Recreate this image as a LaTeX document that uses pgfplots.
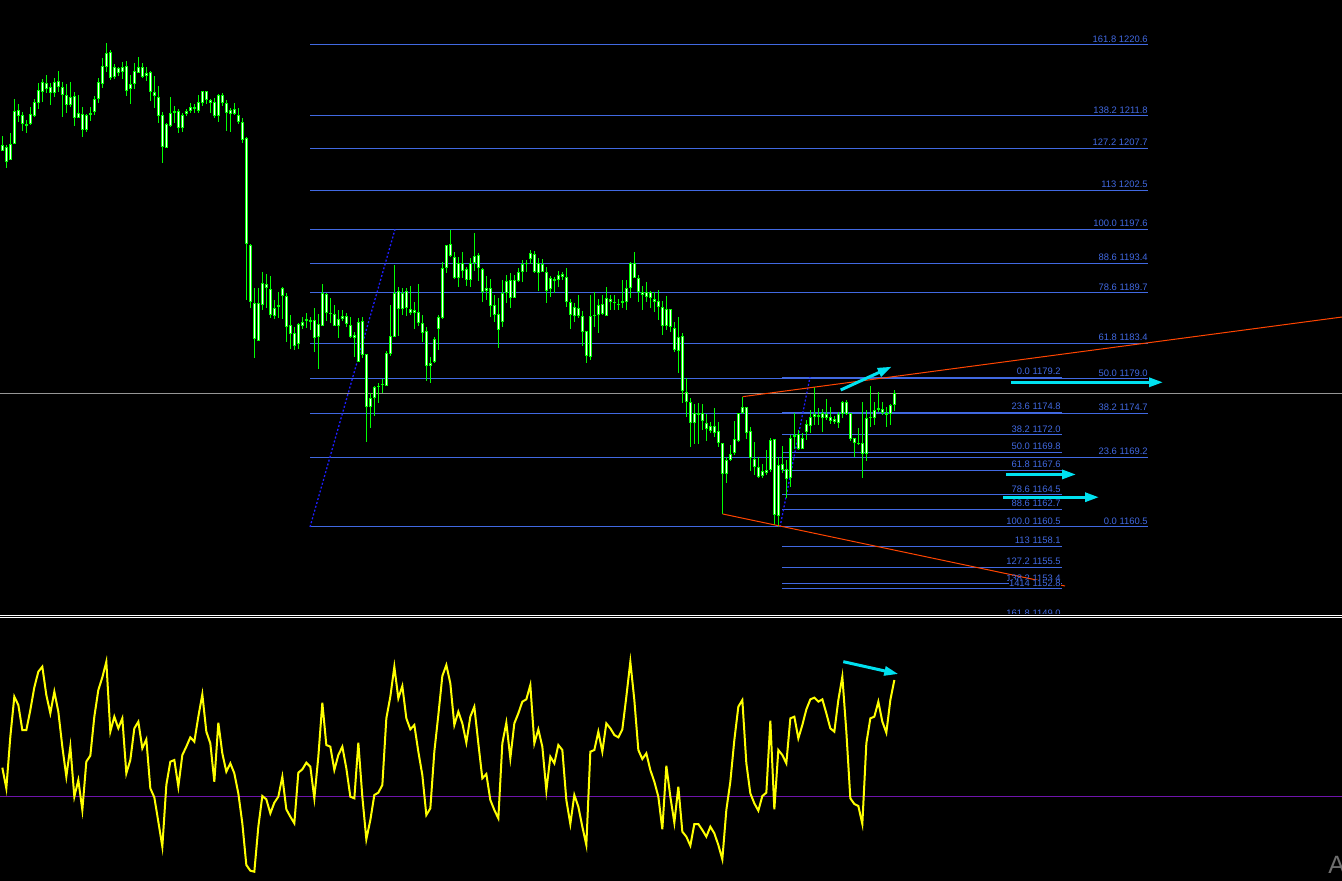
\documentclass[border=0pt]{standalone}
\usepackage{fontspec}
\setmainfont{Liberation Sans}
\usepackage{pgfplots}
\pgfplotsset{compat=1.18}
\usepackage{pgfplotstable}
\usetikzlibrary{arrows.meta}
\definecolor{candle}{RGB}{0,255,0}
\definecolor{fibblue}{RGB}{65,105,225}
\definecolor{dotblue}{RGB}{30,30,255}
\definecolor{trend}{RGB}{255,69,0}
\definecolor{arrowcyan}{RGB}{0,225,240}
\definecolor{oscyellow}{RGB}{255,255,0}
\definecolor{zeroline}{RGB}{110,20,170}
\definecolor{priceline}{RGB}{150,150,150}
\tikzset{fl/.style={font=\fontsize{4.7}{5.5}\selectfont, text=fibblue, anchor=south east, inner sep=0pt, yshift=1pt},
 cyanarrow/.style={arrowcyan, line width=1.5pt, -{Triangle[length=7pt,width=4.5pt]}}}
% candle rows: body top, body bottom, wick top, wick bottom (chart pixel rows)
\pgfplotstableread{
bt bb wt wb
145 151 136 151
147 162 145 168
144 160 133 160
111 144 99 144
110 116 104 122
115 124 112 131
124 126 120 133
114 124 107 125
102 116 99 117
90 103 83 109
82 92 79 102
83 89 75 93
87 93 83 105
82 93 78 97
81 87 71 92
87 95 82 117
95 105 84 113
97 105 82 107
96 118 92 126
113 118 95 118
114 130 107 137
115 130 114 132
113 115 107 121
99 112 96 115
82 99 78 103
66 84 58 88
53 67 43 72
52 78 50 80
67 77 64 79
68 73 67 76
67 72 62 79
66 91 61 96
84 89 75 104
71 84 63 89
67 73 57 73
67 77 63 78
73 76 67 81
72 92 71 101
92 96 76 108
97 116 86 123
115 147 112 163
124 148 123 148
113 126 97 127
111 113 106 123
111 128 109 133
115 128 113 132
111 114 109 116
107 111 103 113
107 109 104 113
102 111 95 113
91 103 91 106
91 100 91 104
100 103 99 113
102 116 98 118
95 116 94 122
95 103 93 106
103 113 100 131
110 114 108 132
109 114 103 115
115 122 108 124
122 140 118 143
138 244 137 300
245 302 244 308
303 339 288 358
303 341 288 341
283 305 272 310
284 288 274 308
289 315 276 318
308 316 300 319
305 307 292 318
288 296 287 319
296 327 293 342
325 334 315 349
333 346 327 350
324 344 323 349
322 326 317 329
319 321 313 328
320 322 317 330
320 338 308 352
324 337 314 369
293 326 284 326
294 313 293 321
313 314 298 323
314 326 305 326
319 326 310 338
316 319 310 321
316 324 313 327
325 337 317 338
335 338 332 357
322 362 318 362
321 355 317 358
354 407 354 442
398 407 393 428
387 398 386 416
386 387 383 403
384 385 379 393
353 386 351 386
336 354 305 356
293 337 265 337
291 309 287 336
293 309 288 315
291 308 288 316
309 313 286 315
310 313 302 329
312 323 284 326
323 333 315 342
331 366 327 381
363 366 357 383
339 362 337 363
317 329 315 350
268 318 262 319
245 268 245 273
244 256 230 257
257 278 252 279
263 278 257 287
263 271 252 278
269 280 267 286
263 280 258 287
256 263 233 271
255 268 253 281
269 292 268 302
288 291 276 300
288 306 279 317
305 315 295 322
314 330 298 348
293 322 280 327
281 293 275 303
280 298 273 308
280 298 275 298
272 281 268 282
264 272 260 282
263 264 260 272
253 259 250 264
254 272 251 273
263 273 258 291
264 272 259 272
272 291 267 303
278 289 276 297
279 281 277 293
275 280 271 287
274 277 272 280
277 302 268 307
302 315 299 329
307 316 303 322
308 316 295 318
316 332 311 346
331 356 331 363
316 357 295 360
315 316 292 327
305 315 299 333
304 314 295 315
298 316 287 316
299 302 295 310
302 303 295 310
304 305 299 310
301 303 280 308
288 302 280 310
263 288 262 298
263 278 252 278
278 292 275 302
292 295 286 310
292 297 282 302
292 298 291 308
299 302 292 312
301 307 290 320
307 326 301 335
309 326 296 330
309 327 309 332
328 350 322 352
337 351 317 373
336 391 333 403
392 402 378 417
402 423 398 447
413 423 404 444
413 415 403 444
413 421 404 430
423 429 414 441
426 431 422 433
426 433 408 437
431 443 422 447
443 474 443 514
460 474 457 483
454 460 445 461
439 453 421 455
413 441 413 442
407 413 397 414
407 433 407 439
431 458 427 471
459 467 442 475
467 477 457 478
471 476 464 478
470 473 450 475
440 470 438 472
439 515 439 525
465 516 457 527
464 470 446 473
469 479 460 498
438 478 435 487
435 437 413 449
434 449 430 450
438 449 433 449
424 432 420 440
417 426 410 433
414 417 387 425
415 417 408 425
413 418 409 432
414 418 399 420
417 421 407 424
419 422 416 424
414 423 412 428
402 414 401 418
402 414 400 415
413 439 413 441
438 443 438 457
443 444 428 445
443 454 402 478
418 454 410 461
417 418 386 427
410 418 402 425
408 410 392 412
409 413 402 415
413 415 407 427
405 414 404 425
393 405 390 411
}\candles
\pgfplotstableread{
v
85
23
178
298
273
198
198
258
326
373
388
303
248
313
253
148
58
148
-2
48
-42
103
121
238
318
356
403
193
238
203
233
68
108
203
223
143
170
23
-4
-77
-152
33
103
108
28
123
148
176
163
238
305
193
158
43
220
128
73
98
68
8
-82
-207
-224
-227
-92
0
-10
-52
-20
-2
58
-40
-62
-82
70
80
100
88
-7
118
280
153
148
78
123
148
83
-2
-7
160
-2
-130
-72
3
10
33
233
298
388
293
330
233
200
213
133
63
-57
-37
133
243
360
393
338
213
253
218
160
238
268
158
53
66
-12
-42
-67
158
220
113
218
248
283
290
333
158
200
148
16
118
98
153
138
-12
-84
3
-32
-92
-147
133
138
193
133
218
203
183
176
200
298
403
288
138
111
128
78
43
-2
-100
91
-2
-80
28
-107
-122
-149
-84
-84
-102
-122
-92
-112
-147
-190
-42
43
168
268
288
98
8
-22
-44
0
10
226
-40
138
123
98
233
238
173
213
260
290
295
283
290
248
203
193
288
358
193
-7
-24
-30
-84
158
233
238
283
223
190
288
348
}\osc
\begin{document}
\begin{tikzpicture}
\fill[black] (0,0) rectangle (671pt,-440.5pt);
\useasboundingbox (0,0) rectangle (671pt,-440.5pt);
\begin{axis}[at={(0pt,0pt)}, anchor=north west, scale only axis, width=671pt, height=307pt,
  xmin=0, xmax=1342, ymin=1149.65, ymax=1226.21, hide axis]
% big fibonacci set
\pgfplotsinvokeforeach{1220.6,1211.8,1207.7,1202.5,1197.6,1193.4,1189.7,1183.4,1179.0,1174.7,1169.2,1160.5}{
  \addplot[fibblue, line width=0.5pt] coordinates {(310,#1) (1148,#1)};
}
% small fibonacci set
\pgfplotsinvokeforeach{1179.2,1174.8,1172.0,1169.8,1167.6,1164.5,1162.7,1160.5,1158.1,1155.5,1153.4,1152.8,1149.0}{
  \addplot[fibblue, line width=0.5pt] coordinates {(782,#1) (1062,#1)};
}
\addplot[priceline, line width=0.5pt] coordinates {(0,1177.17) (1342,1177.17)};
\addplot[dotblue, line width=0.65pt, dash pattern=on 1pt off 1pt] coordinates {(310,1160.5) (395,1197.6)};
\addplot[dotblue, line width=0.65pt, dash pattern=on 1pt off 1pt] coordinates {(780,1160.5) (810,1179.2)};
% candles: wick, green body, white core
\addplot[candle, line width=0.5pt, no markers, quiver={u=0, v={(\thisrow{wb}-\thisrow{wt})/8.02}}]
  table[x expr=2.33+4*\coordindex, y expr={1226.21-\thisrow{wb}/8.02}] {\candles};
\addplot[candle, line width=1.5pt, no markers, quiver={u=0, v={max(\thisrow{bb}-\thisrow{bt},1.2)/8.02}}]
  table[x expr=2.33+4*\coordindex, y expr={1226.21-\thisrow{bb}/8.02}] {\candles};
\addplot[white, line width=0.55pt, no markers, quiver={u=0, v={max(\thisrow{bb}-\thisrow{bt}-2,0)/8.02}}]
  table[x expr=2.33+4*\coordindex, y expr={1226.21-(\thisrow{bb}-1)/8.02}] {\candles};
\addplot[trend, line width=0.5pt] coordinates {(742.7,1176.75) (1342,1186.68)};
\addplot[trend, line width=0.5pt] coordinates {(722.7,1162.12) (1065,1153.14)};
% labels big set
\node[fl] at (axis cs:1148,1220.6) {161.8 1220.6};
\node[fl] at (axis cs:1148,1211.8) {138.2 1211.8};
\node[fl] at (axis cs:1148,1207.7) {127.2 1207.7};
\node[fl] at (axis cs:1148,1202.5) {113 1202.5};
\node[fl] at (axis cs:1148,1197.6) {100.0 1197.6};
\node[fl] at (axis cs:1148,1193.4) {88.6 1193.4};
\node[fl] at (axis cs:1148,1189.7) {78.6 1189.7};
\node[fl] at (axis cs:1148,1183.4) {61.8 1183.4};
\node[fl] at (axis cs:1148,1179.0) {50.0 1179.0};
\node[fl] at (axis cs:1148,1174.7) {38.2 1174.7};
\node[fl] at (axis cs:1148,1169.2) {23.6 1169.2};
\node[fl] at (axis cs:1148,1160.5) {0.0 1160.5};
% labels small set
\node[fl] at (axis cs:1061,1179.2) {0.0 1179.2};
\node[fl] at (axis cs:1061,1174.8) {23.6 1174.8};
\node[fl] at (axis cs:1061,1172.0) {38.2 1172.0};
\node[fl] at (axis cs:1061,1169.8) {50.0 1169.8};
\node[fl] at (axis cs:1061,1167.6) {61.8 1167.6};
\node[fl] at (axis cs:1061,1164.5) {78.6 1164.5};
\node[fl] at (axis cs:1061,1162.7) {88.6 1162.7};
\node[fl] at (axis cs:1061,1160.5) {100.0 1160.5};
\node[fl] at (axis cs:1061,1158.1) {113 1158.1};
\node[fl] at (axis cs:1061,1155.5) {127.2 1155.5};
\node[fl] at (axis cs:1061,1153.4) {138.2 1153.4};
\node[fl, fill=black] at (axis cs:1061,1152.8) {1414 1152.8};
\node[fl] at (axis cs:1061,1149.0) {161.8 1149.0};
% arrows
\draw[cyanarrow] (axis cs:840.7,1177.58) -- (axis cs:891.7,1180.49);
\draw[cyanarrow] (axis cs:1011,1178.54) -- (axis cs:1163,1178.54);
\draw[cyanarrow] (axis cs:1006,1167.05) -- (axis cs:1076,1167.05);
\draw[cyanarrow] (axis cs:1003,1164.21) -- (axis cs:1099,1164.21);
\end{axis}
\begin{axis}[at={(0pt,-307pt)}, anchor=north west, scale only axis, width=671pt, height=133.5pt,
  xmin=0, xmax=1342, ymin=-255, ymax=546, hide axis]
\addplot[zeroline, line width=0.5pt] coordinates {(0,0) (1342,0)};
\addplot[oscyellow, line width=1pt] table[x expr=2.33+4*\coordindex, y=v] {\osc};
\fill[black] (axis cs:0,546) rectangle (axis cs:1342,532);
\draw[white, line width=0.5pt] (axis cs:0,541) -- (axis cs:1342,541);
\draw[white, line width=0.5pt] (axis cs:0,536) -- (axis cs:1342,536);
\draw[cyanarrow] (axis cs:843.3,403) -- (axis cs:898.3,366);
\node[anchor=base west, inner sep=0pt, text={rgb,255:red,110;green,110;blue,110}, font=\fontsize{12.5}{14}\selectfont] at (axis cs:1328,-231) {A};
\end{axis}
\end{tikzpicture}
\end{document}
